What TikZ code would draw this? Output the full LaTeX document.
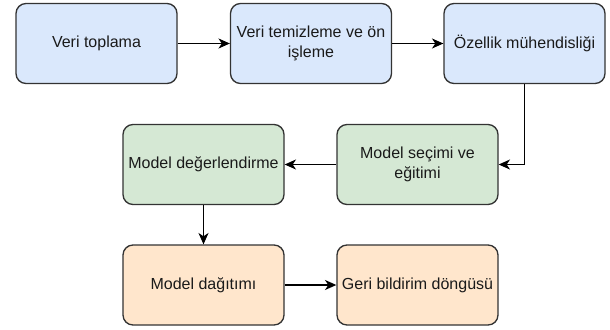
\documentclass[tikz,border=0pt]{standalone}
\usepackage{fontspec}
\setmainfont{Liberation Sans}
\usetikzlibrary{arrows.meta}
\definecolor{bluefill}{HTML}{DAE8FC}
\definecolor{greenfill}{HTML}{D5E8D4}
\definecolor{orangefill}{HTML}{FFE6CC}
\definecolor{strokec}{HTML}{333333}
\definecolor{textc}{HTML}{1A1A1A}
\begin{document}
\begin{tikzpicture}[x=0.75pt,y=-0.75pt,
  stepbox/.style={draw=strokec, line width=1pt, rounded corners=7.5pt,
    minimum width=120.75pt, minimum height=60pt, inner sep=2pt,
    align=center, text=textc, font=\fontsize{12pt}{14.5pt}\selectfont},
  bluebox/.style={stepbox, fill=bluefill},
  greenbox/.style={stepbox, fill=greenfill},
  orangebox/.style={stepbox, fill=orangefill},
  conn/.style={draw=black, line width=1pt, -{Stealth[length=8.5pt,width=7.5pt,inset=2.5pt]}}
]
\useasboundingbox (0,0) rectangle (610,329);
\node[bluebox] (b1) at (96.5,43.5) {Veri toplama};
\node[bluebox] (b2) at (311,43.5) {Veri temizleme ve ön\\işleme};
\node[bluebox] (b3) at (524.5,43.5) {Özellik mühendisliği};
\node[greenbox] (b4) at (203.5,164.5) {Model değerlendirme};
\node[greenbox] (b5) at (417.5,164.5) {Model seçimi ve\\eğitimi};
\node[orangebox] (b6) at (203.5,285) {Model dağıtımı};
\node[orangebox] (b7) at (417.5,285) {Geri bildirim döngüsü};
\draw[conn] (b1) -- (b2);
\draw[conn] (b2) -- (b3);
\draw[conn] (b3.south) |- (b5.east);
\draw[conn] (b5) -- (b4);
\draw[conn] (b4) -- (b6);
\draw[conn] (b6) -- (b7);
\end{tikzpicture}
\end{document}
